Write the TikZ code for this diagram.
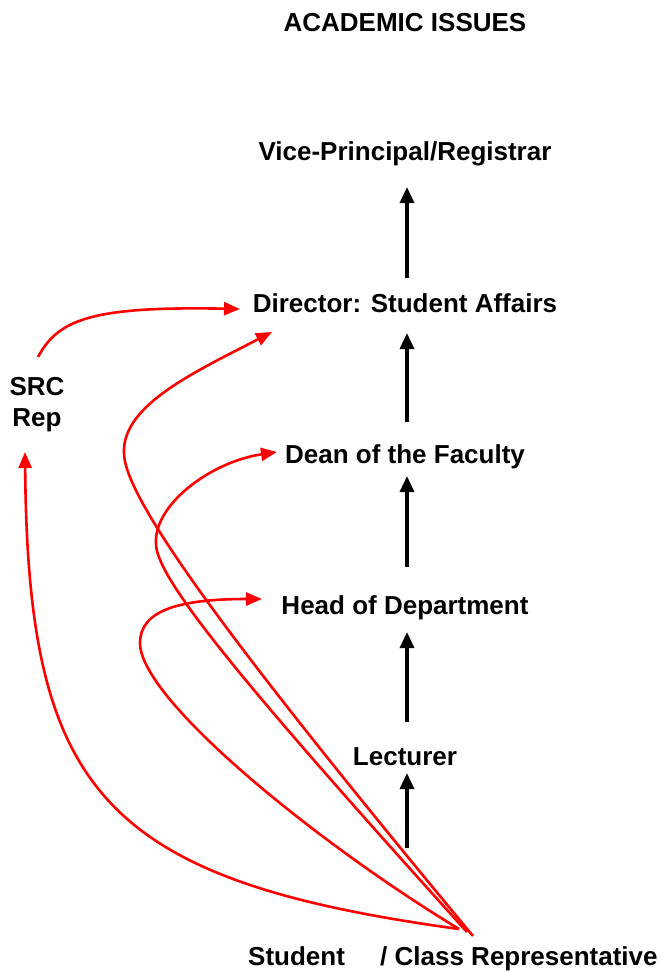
\documentclass[tikz,border=0pt]{standalone}
\usepackage{fontspec}
\setmainfont{Liberation Sans}
\usetikzlibrary{arrows.meta}
\begin{document}
\begin{tikzpicture}[x=1pt,y=-1pt,
  lbl/.style={font=\fontsize{26}{31}\selectfont\bfseries, inner sep=0pt, anchor=base},
  blk/.style={line width=3.3pt, -{Triangle[length=16pt,width=14pt]}},
  redarr/.style={red, line width=2.6pt, -{Triangle[length=16pt,width=13pt]}}]
\useasboundingbox[fill=white] (0,0) rectangle (662,972);

% labels
\node[lbl] (title) at (405,31) {ACADEMIC ISSUES};
\node[lbl] (vice) at (405,160) {Vice-Principal/Registrar};
\node[lbl] (dir) at (405,312) {Director: Student Affairs};
\node[lbl] (dean) at (405,463) {Dean of the Faculty};
\node[lbl] (head) at (405,614) {Head of Department};
\node[lbl] (lec) at (405,765) {Lecturer};
\node[lbl, anchor=base west] (stu) at (248,965) {Student\hspace{28pt} / Class Representative};
\node[lbl, align=center, anchor=base] (src) at (37,426) {SRC\\Rep};

% black arrow ends
\coordinate (a1s) at (407,848); \coordinate (a1e) at (407,773);
\coordinate (a2s) at (407,722); \coordinate (a2e) at (407,632);
\coordinate (a3s) at (407,567); \coordinate (a3e) at (407,476);
\coordinate (a4s) at (407,422); \coordinate (a4e) at (407,333);
\coordinate (a5s) at (407,278); \coordinate (a5e) at (407,187);
\draw[blk] (a1s) -- (a1e);
\draw[blk] (a2s) -- (a2e);
\draw[blk] (a3s) -- (a3e);
\draw[blk] (a4s) -- (a4e);
\draw[blk] (a5s) -- (a5e);

% red connectors
\coordinate (sA) at (473,936);
\coordinate (sB) at (467,932);
\coordinate (sC) at (459,929);
\coordinate (sD) at (459,929);
\coordinate (srcTop) at (38,357);
\coordinate (tDir1) at (240,309);
\coordinate (tDir2) at (272,332);
\coordinate (tDean) at (277,452);
\coordinate (tHead) at (262,599);
\coordinate (tSrc) at (25,452);

\draw[redarr] (srcTop) .. controls (58,320) and (90,306) .. (tDir1);
\draw[redarr] (sA) .. controls (240,655) and (124,500) .. (124,453)
   .. controls (122,405) and (195,372) .. (tDir2);
\draw[redarr] (sB) .. controls (230,670) and (155,575) .. (156,543)
   .. controls (154,505) and (210,462) .. (tDean);
\draw[redarr] (sC) .. controls (320,845) and (140,700) .. (140,643)
   .. controls (140,610) and (180,599) .. (tHead);
\draw[redarr] (sD) .. controls (100,880) and (28,790) .. (tSrc);
\end{tikzpicture}
\end{document}
